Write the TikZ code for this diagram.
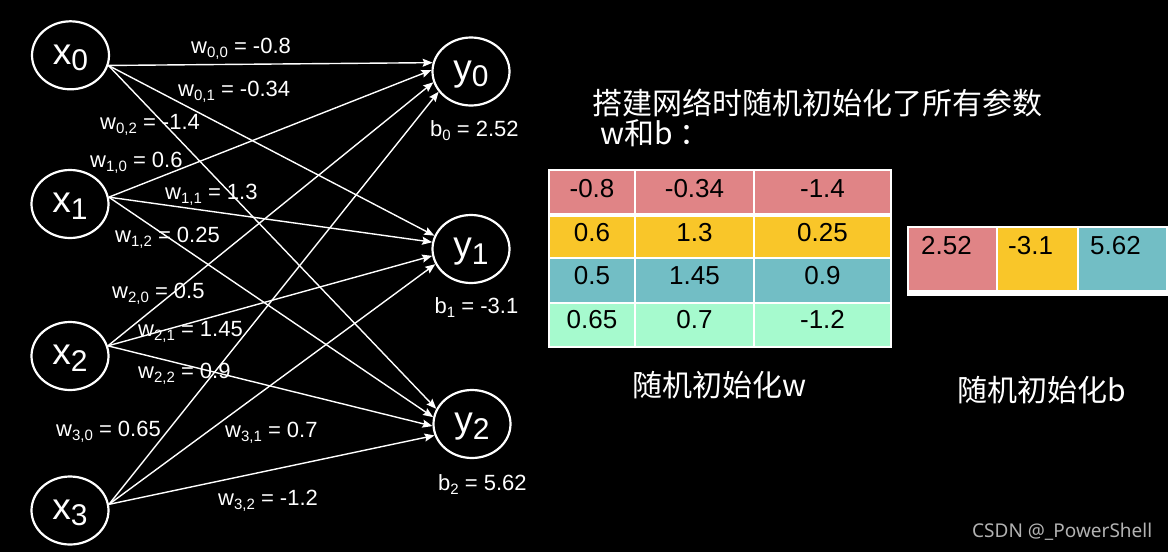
\documentclass[tikz,border=0pt]{standalone}
\usepackage{fontspec}
\setmainfont{Liberation Sans}
\newfontfamily\cjk{Noto Sans CJK SC}
\newfontfamily\wmfont{Noto Sans}
\usetikzlibrary{arrows.meta,shapes.geometric}
\definecolor{cpink}{RGB}{224,132,134}
\definecolor{cyel}{RGB}{249,198,41}
\definecolor{cteal}{RGB}{114,190,197}
\definecolor{cmint}{RGB}{166,250,206}
\definecolor{wmgray}{RGB}{178,178,178}
\newcommand{\nsub}[1]{\raisebox{-6.7pt}{\fontsize{30}{30}\selectfont #1}}
\newcommand{\lsub}[1]{\raisebox{-4pt}{\fontsize{15}{15}\selectfont #1}}
\tikzset{
  neuron/.style={draw=white, line width=2.2pt, ellipse, minimum width=77pt, minimum height=68pt,
    inner sep=0pt, text=white, font=\fontsize{37}{37}\selectfont, text height=24pt, text depth=6.6pt},
  conn/.style={white, line width=1.4pt, -{Stealth[length=10pt,width=8pt,inset=1.5pt]}},
  wlab/.style={text=white, font=\fontsize{22}{22}\selectfont, anchor=base west, inner sep=0pt},
  cell/.style={text=black, font=\fontsize{26}{26}\selectfont, anchor=base, inner sep=0pt},
  bcell/.style={text=black, font=\fontsize{26}{26}\selectfont, anchor=base west, inner sep=0pt},
  cjktext/.style={text=white, font=\cjk\fontsize{30}{30}\selectfont, anchor=base west, inner sep=0pt},
}
\begin{document}
\begin{tikzpicture}[x=1pt,y=-1pt]
\fill[black] (0,0) rectangle (1168,552);
\useasboundingbox (0,0) rectangle (1168,552);

% neurons
\node[neuron] (x0) at (70.5,55.3) {x\nsub{0}};
\node[neuron] (x1) at (70,204) {x\nsub{1}};
\node[neuron] (x2) at (70,356) {x\nsub{2}};
\node[neuron] (x3) at (70,510.5) {x\nsub{3}};
\node[neuron] (y0) at (471,71.5) {y\nsub{0}};
\node[neuron] (y1) at (471,249) {y\nsub{1}};
\node[neuron] (y2) at (472,424) {y\nsub{2}};

% connectors
\draw[conn] (x0.-15) -- (y0.167);
\draw[conn] (x0.-15) -- (y1.160);
\draw[conn] (x0.-15) -- (y2.157);
\draw[conn] (x1.10) -- (y0.178);
\draw[conn] (x1.10) -- (y1.170);
\draw[conn] (x1.10) -- (y2.170);
\draw[conn] (x2.15) -- (y0.196);
\draw[conn] (x2.15) -- (y1.190);
\draw[conn] (x2.15) -- (y2.183);
\draw[conn] (x3.9) -- (y0.212);
\draw[conn] (x3.9) -- (y1.203);
\draw[conn] (x3.9) -- (y2.197);

% weight labels
\node[wlab] (l00) at (191,53.3) {w\lsub{0,0} = -0.8};
\node[wlab] (l01) at (178,96.7) {w\lsub{0,1} = -0.34};
\node[wlab] (l02) at (100,129) {w\lsub{0,2} = -1.4};
\node[wlab] (l10) at (90,167) {w\lsub{1,0} = 0.6};
\node[wlab] (l11) at (165,199) {w\lsub{1,1} = 1.3};
\node[wlab] (l12) at (115,242) {w\lsub{1,2} = 0.25};
\node[wlab] (l20) at (112,298) {w\lsub{2,0} = 0.5};
\node[wlab] (l21) at (138,336) {w\lsub{2,1} = 1.45};
\node[wlab] (l22) at (138,378) {w\lsub{2,2} = 0.9};
\node[wlab] (l30) at (56,436.7) {w\lsub{3,0} = 0.65};
\node[wlab] (l31) at (225,437) {w\lsub{3,1} = 0.7};
\node[wlab] (l32) at (218,505) {w\lsub{3,2} = -1.2};

% bias labels
\node[wlab] (b0) at (430,136) {b\lsub{0} = 2.52};
\node[wlab] (b1) at (434.5,313) {b\lsub{1} = -3.1};
\node[wlab] (b2) at (438,490) {b\lsub{2} = 5.62};

% title
\node[cjktext] (t1) at (592,114) {搭建网络时随机初始化了所有参数};
\node[cjktext] (t2) at (600,144) {w和b ：};

% W table
\fill[cpink] (549,170) rectangle (891,213);
\fill[cyel]  (549,217) rectangle (891,258);
\fill[cteal] (549,258) rectangle (891,303);
\fill[cmint] (549,303) rectangle (891,347);
\fill[white] (549,212.5) rectangle (891,217);
\draw[white, line width=1.3pt] (549,170) rectangle (891,347);
\draw[white, line width=1.3pt] (635,170) -- (635,347) (754,170) -- (754,347)
  (549,258) -- (891,258) (549,303) -- (891,303);
\node[cell] (w00) at (592,197) {-0.8};
\node[cell] (w01) at (694.5,197) {-0.34};
\node[cell] (w02) at (822.5,197) {-1.4};
\node[cell] (w10) at (592,241) {0.6};
\node[cell] (w11) at (694.5,241) {1.3};
\node[cell] (w12) at (822.5,241) {0.25};
\node[cell] (w20) at (592,284) {0.5};
\node[cell] (w21) at (694.5,284) {1.45};
\node[cell] (w22) at (822.5,284) {0.9};
\node[cell] (w30) at (592,328) {0.65};
\node[cell] (w31) at (694.5,328) {0.7};
\node[cell] (w32) at (822.5,328) {-1.2};

% b table
\fill[cpink] (908,227) rectangle (997,290);
\fill[cyel]  (997,227) rectangle (1078,290);
\fill[cteal] (1078,227) rectangle (1167,290);
\fill[white] (908,290) rectangle (1167,295);
\draw[white, line width=1.3pt] (908,227) rectangle (1167,295);
\draw[white, line width=1.3pt] (997,227) -- (997,295) (1078,227) -- (1078,295);
\node[bcell] (bb0) at (921,254) {2.52};
\node[bcell] (bb1) at (1008,254) {-3.1};
\node[bcell] (bb2) at (1090,254) {5.62};

% captions
\node[cjktext] (cw) at (632,396) {随机初始化w};
\node[cjktext] (cb) at (957,401) {随机初始化b};

% watermark
\node[text=wmgray, font=\wmfont\fontsize{19}{19}\selectfont, anchor=base west, inner sep=0pt] (wm) at (972,537) {CSDN @\_PowerShell};
\end{tikzpicture}
\end{document}
